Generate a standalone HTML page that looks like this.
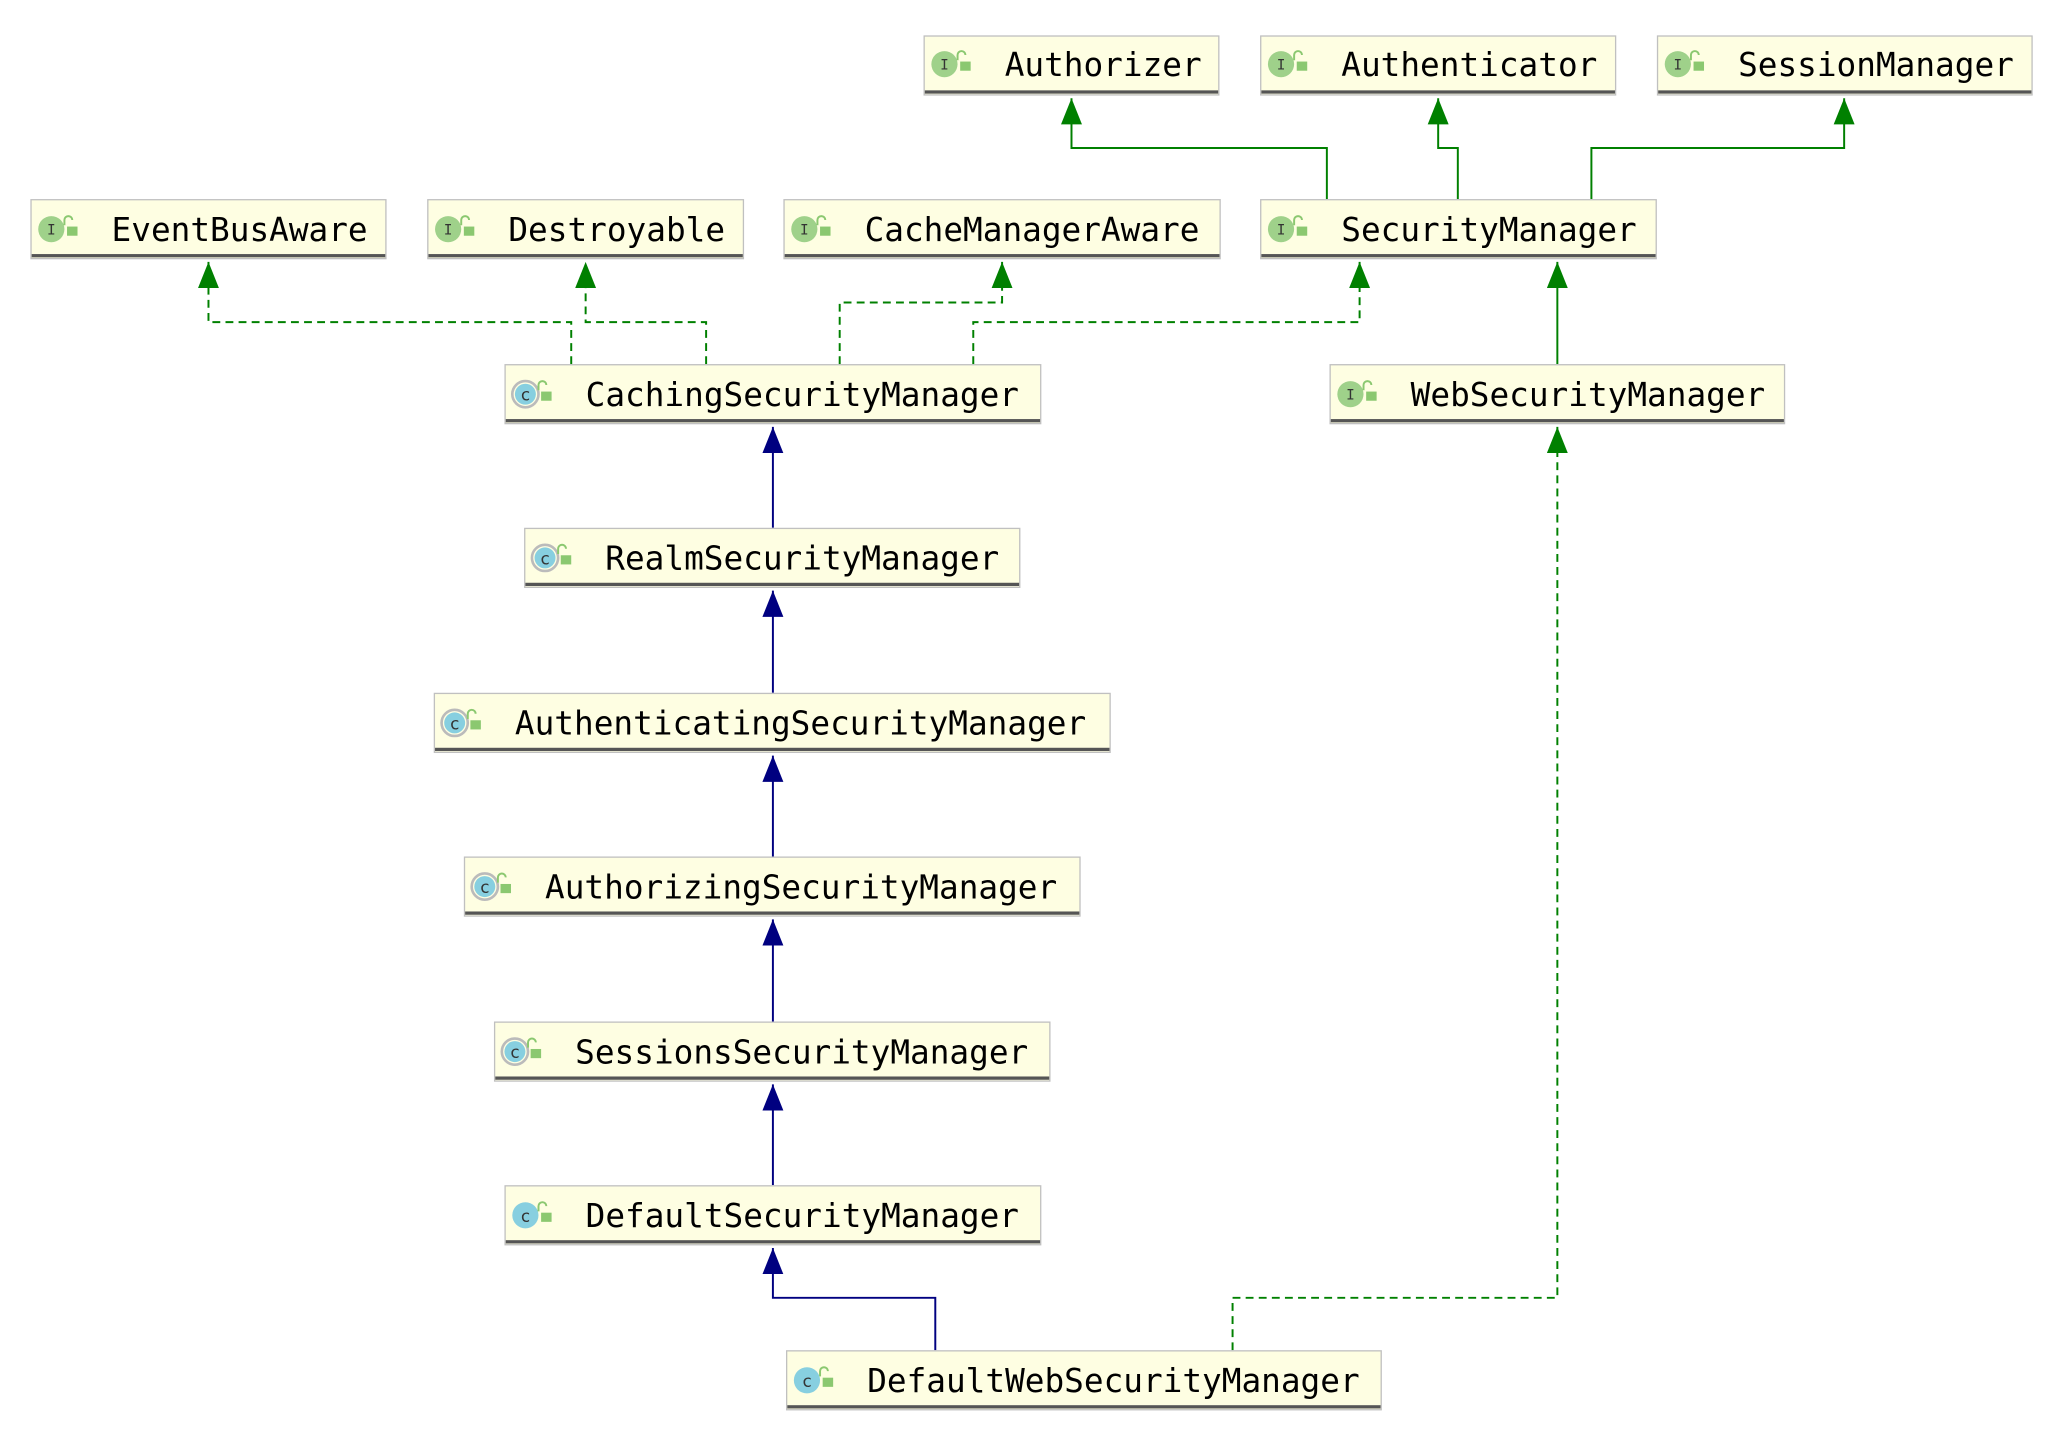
<!DOCTYPE html>
<html><head><meta charset="utf-8"><style>
html,body{margin:0;padding:0;background:#fff;}
svg{display:block}
text{font-family:"DejaVu Sans Mono","Liberation Mono",monospace;}
</style></head><body>
<svg width="2050" height="1434" viewBox="0 0 1565 1095" xmlns="http://www.w3.org/2000/svg">
<defs>
<marker id="g" markerWidth="16" markerHeight="20" refX="8" refY="0" orient="0" markerUnits="userSpaceOnUse"><path d="M0,20 L8,0 L16,20 Z" fill="#008000"/></marker>
<marker id="b" markerWidth="16" markerHeight="20" refX="8" refY="0" orient="0" markerUnits="userSpaceOnUse"><path d="M0,20 L8,0 L16,20 Z" fill="#000080"/></marker>
<g id="ii"><circle cx="0" cy="0" r="10" fill="#9fd18a"/><text x="0" y="4" font-size="11" text-anchor="middle" fill="#333">I</text><path d="M10,-3 v-4 a3,3 0 0 1 6,0" fill="none" stroke="#8bc870" stroke-width="1.5"/><rect x="12" y="-2" width="8" height="7" fill="#8bc870"/></g>
<g id="cc"><circle cx="0" cy="0" r="10" fill="#87cfe0"/><text x="0" y="5" font-size="13" text-anchor="middle" fill="#333">c</text><path d="M10,-3 v-4 a3,3 0 0 1 6,0" fill="none" stroke="#8bc870" stroke-width="1.5"/><rect x="12" y="-2" width="8" height="7" fill="#8bc870"/></g>
<g id="ac"><circle cx="0" cy="0" r="10" fill="none" stroke="#bbb" stroke-width="2"/><circle cx="0" cy="0" r="8" fill="#87cfe0"/><text x="0" y="5" font-size="13" text-anchor="middle" fill="#333">c</text><path d="M10,-3 v-4 a3,3 0 0 1 6,0" fill="none" stroke="#8bc870" stroke-width="1.5"/><rect x="12" y="-2" width="8" height="7" fill="#8bc870"/></g>
</defs>
<g fill="none" stroke-width="1.5">
<path d="M1013,152 V113 H818 V75" stroke="#008000" marker-end="url(#g)"/>
<path d="M1113,152 V113 H1098 V75" stroke="#008000" marker-end="url(#g)"/>
<path d="M1215,152 V113 H1408 V75" stroke="#008000" marker-end="url(#g)"/>
<path d="M1189,278 V200" stroke="#008000" marker-end="url(#g)"/>
<g stroke="#008000" stroke-dasharray="6,4">
<path d="M436,278 V246 H159 V200" marker-end="url(#g)"/>
<path d="M539,278 V246 H447 V200" marker-end="url(#g)"/>
<path d="M641,278 V231 H765 V200" marker-end="url(#g)"/>
<path d="M743,278 V246 H1038 V200" marker-end="url(#g)"/>
<path d="M941,1031 V991 H1189 V326" marker-end="url(#g)"/>
</g>
<g stroke="#000080">
<path d="M590,403 V326" marker-end="url(#b)"/>
<path d="M590,529 V451" marker-end="url(#b)"/>
<path d="M590,654 V577" marker-end="url(#b)"/>
<path d="M590,780 V702" marker-end="url(#b)"/>
<path d="M590,905 V828" marker-end="url(#b)"/>
<path d="M714,1031 V991 H590 V953" marker-end="url(#b)"/>
</g>
</g>
<g font-size="25" fill="#000">
<!-- boxes: x,y,w -->
<g transform="translate(705,27)"><rect x="0.5" y="0.5" width="225" height="45" fill="#fefee2" stroke="#c0c0c0"/><rect x="1" y="42" width="224" height="2.5" fill="#555"/><use href="#ii" x="16" y="22"/><text x="62" y="31">Authorizer</text></g>
<g transform="translate(962,27)"><rect x="0.5" y="0.5" width="271" height="45" fill="#fefee2" stroke="#c0c0c0"/><rect x="1" y="42" width="270" height="2.5" fill="#555"/><use href="#ii" x="16" y="22"/><text x="62" y="31">Authenticator</text></g>
<g transform="translate(1265,27)"><rect x="0.5" y="0.5" width="286" height="45" fill="#fefee2" stroke="#c0c0c0"/><rect x="1" y="42" width="285" height="2.5" fill="#555"/><use href="#ii" x="16" y="22"/><text x="62" y="31">SessionManager</text></g>
<g transform="translate(23,152)"><rect x="0.5" y="0.5" width="271" height="45" fill="#fefee2" stroke="#c0c0c0"/><rect x="1" y="42" width="270" height="2.5" fill="#555"/><use href="#ii" x="16" y="23"/><text x="62" y="32">EventBusAware</text></g>
<g transform="translate(326,152)"><rect x="0.5" y="0.5" width="241" height="45" fill="#fefee2" stroke="#c0c0c0"/><rect x="1" y="42" width="240" height="2.5" fill="#555"/><use href="#ii" x="16" y="23"/><text x="62" y="32">Destroyable</text></g>
<g transform="translate(598,152)"><rect x="0.5" y="0.5" width="333" height="45" fill="#fefee2" stroke="#c0c0c0"/><rect x="1" y="42" width="332" height="2.5" fill="#555"/><use href="#ii" x="16" y="23"/><text x="62" y="32">CacheManagerAware</text></g>
<g transform="translate(962,152)"><rect x="0.5" y="0.5" width="302" height="45" fill="#fefee2" stroke="#c0c0c0"/><rect x="1" y="42" width="301" height="2.5" fill="#555"/><use href="#ii" x="16" y="23"/><text x="62" y="32">SecurityManager</text></g>
<g transform="translate(385,278)"><rect x="0.5" y="0.5" width="409" height="45" fill="#fefee2" stroke="#c0c0c0"/><rect x="1" y="42" width="408" height="2.5" fill="#555"/><use href="#ac" x="16" y="23"/><text x="62" y="32">CachingSecurityManager</text></g>
<g transform="translate(1015,278)"><rect x="0.5" y="0.5" width="347" height="45" fill="#fefee2" stroke="#c0c0c0"/><rect x="1" y="42" width="346" height="2.5" fill="#555"/><use href="#ii" x="16" y="23"/><text x="62" y="32">WebSecurityManager</text></g>
<g transform="translate(400,403)"><rect x="0.5" y="0.5" width="378" height="45" fill="#fefee2" stroke="#c0c0c0"/><rect x="1" y="42" width="377" height="2.5" fill="#555"/><use href="#ac" x="16" y="23"/><text x="62" y="32">RealmSecurityManager</text></g>
<g transform="translate(331,529)"><rect x="0.5" y="0.5" width="516" height="45" fill="#fefee2" stroke="#c0c0c0"/><rect x="1" y="42" width="515" height="2.5" fill="#555"/><use href="#ac" x="16" y="23"/><text x="62" y="32">AuthenticatingSecurityManager</text></g>
<g transform="translate(354,654)"><rect x="0.5" y="0.5" width="470" height="45" fill="#fefee2" stroke="#c0c0c0"/><rect x="1" y="42" width="469" height="2.5" fill="#555"/><use href="#ac" x="16" y="23"/><text x="62" y="32">AuthorizingSecurityManager</text></g>
<g transform="translate(377,780)"><rect x="0.5" y="0.5" width="424" height="45" fill="#fefee2" stroke="#c0c0c0"/><rect x="1" y="42" width="423" height="2.5" fill="#555"/><use href="#ac" x="16" y="23"/><text x="62" y="32">SessionsSecurityManager</text></g>
<g transform="translate(385,905)"><rect x="0.5" y="0.5" width="409" height="45" fill="#fefee2" stroke="#c0c0c0"/><rect x="1" y="42" width="408" height="2.5" fill="#555"/><use href="#cc" x="16" y="23"/><text x="62" y="32">DefaultSecurityManager</text></g>
<g transform="translate(600,1031)"><rect x="0.5" y="0.5" width="454" height="45" fill="#fefee2" stroke="#c0c0c0"/><rect x="1" y="42" width="453" height="2.5" fill="#555"/><use href="#cc" x="16" y="23"/><text x="62" y="32">DefaultWebSecurityManager</text></g>
</g>
</svg>
</body></html>
